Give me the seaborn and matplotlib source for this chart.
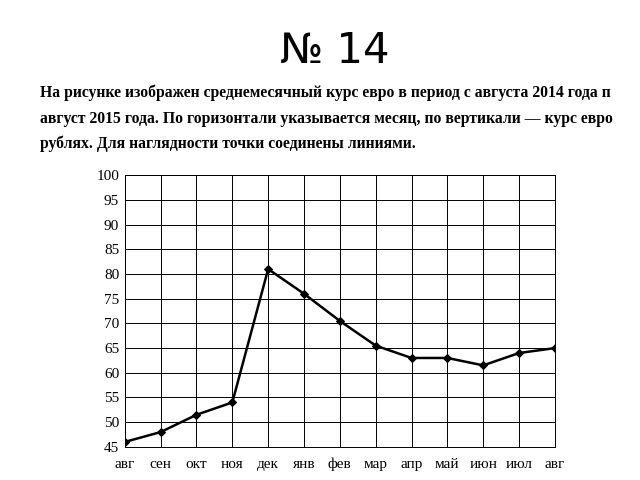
import matplotlib
matplotlib.use('Agg')
import matplotlib.pyplot as plt
import seaborn as sns
import pandas as pd

months = ['авг', 'сен', 'окт', 'ноя', 'дек', 'янв', 'фев', 'мар', 'апр', 'май', 'июн', 'июл', 'авг']
rate = [46, 48, 51.5, 54, 81, 76, 70.5, 65.5, 63, 63, 61.5, 64, 65]
yticks = list(range(45, 101, 5))

df = pd.DataFrame({'i': range(len(months)), 'rate': rate})

sns.set_style('white')
plt.rcParams['font.family'] = ['Liberation Serif', 'DejaVu Serif']

fig = plt.figure(figsize=(6.4, 4.8), dpi=100)
ax = fig.add_axes([0.195, 0.069, 0.672, 0.566])

sns.lineplot(data=df, x='i', y='rate', ax=ax, color='black', linewidth=1.8,
             marker='D', markersize=4, markeredgecolor='black')

ax.set_xlim(0, len(months) - 1)
ax.set_ylim(45, 100)
ax.set_xticks(range(len(months)))
ax.set_xticklabels(months)
ax.set_yticks(yticks)
ax.set_yticklabels([str(t) for t in yticks])
ax.tick_params(axis='both', length=0, labelsize=11, colors='black')
ax.tick_params(axis='x', pad=8)
ax.tick_params(axis='y', pad=4)
ax.grid(True, color='black', linewidth=0.7)
for s in ax.spines.values():
    s.set_linewidth(0.7)
    s.set_color('black')
ax.set_xlabel('')
ax.set_ylabel('')

fig.text(0.523, 0.893, '№ 14', ha='center', va='center', fontsize=30,
         color='black', family=['DejaVu Sans'])
lines = [
    'На рисунке изображен среднемесячный курс евро в период с августа 2014 года п',
    'август 2015 года. По горизонтали указывается месяц, по вертикали — курс евро',
    'рублях. Для наглядности точки соединены линиями.',
]
ys = [0.807, 0.752, 0.700]
for t, y in zip(lines, ys):
    fig.text(0.063, y, t, ha='left', va='center', fontsize=11.3, weight='bold',
             color='black')

fig.savefig('out.png', dpi=100)
